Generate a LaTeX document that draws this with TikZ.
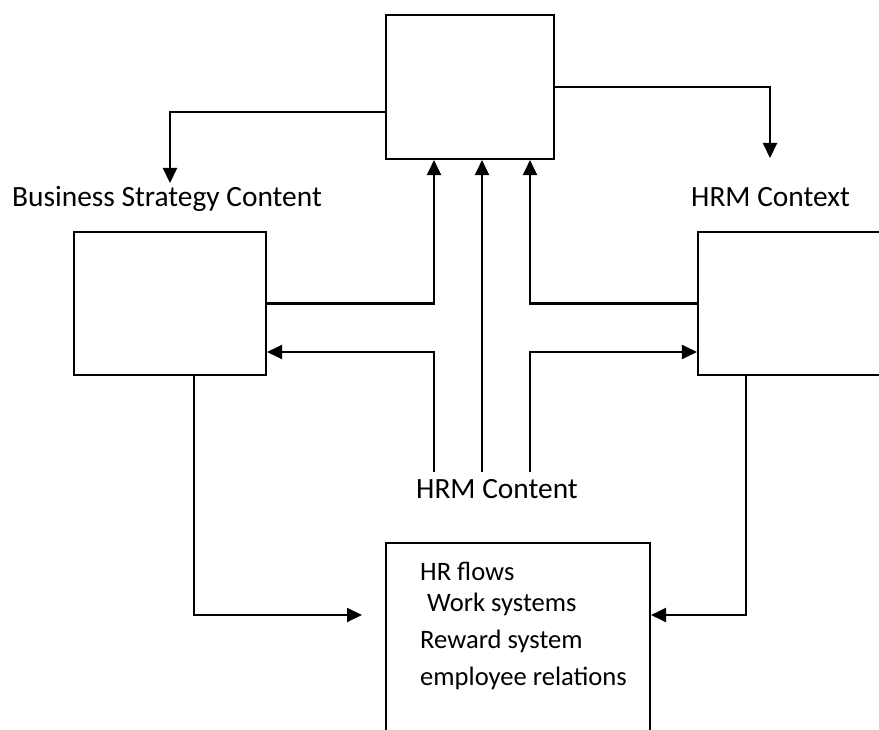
\documentclass[tikz,border=0pt]{standalone}
\usepackage{fontspec}
\setmainfont{Carlito}
\usetikzlibrary{arrows.meta}
\begin{document}
\begin{tikzpicture}[x=1pt,y=-1pt,
  box/.style={draw=black,line width=2.1pt,minimum width=#1,inner sep=0pt},
  conn/.style={draw=black,line width=2.1pt,-{Triangle[length=15pt,width=14pt]}},
  label/.style={anchor=base west,inner sep=0pt,font=\fontsize{29.4}{31}\selectfont},
  item/.style={anchor=base west,inner sep=0pt,font=\fontsize{26.6}{28}\selectfont}]
  \useasboundingbox (0,0) rectangle (879,730);
  \fill[white] (0,0) rectangle (879,730);
  \clip (0,0) rectangle (879,730);

  % boxes (the right one and the bottom one run past the page edge)
  \node[box=168pt,minimum height=144pt] (top) at (470,87) {};
  \node[box=192pt,minimum height=143pt] (lbox) at (170,303.5) {};
  \node[box=192pt,minimum height=143pt] (rbox) at (794,303.5) {};
  \node[box=264pt,minimum height=217pt] (hrbox) at (518,651.5) {};

  % labels
  \node[label] (bsc) at (12,207) {Business Strategy Content};
  \node[label] (ctx) at (691,207) {HRM Context};
  \node[label] (cnt) at (416,498) {HRM Content};

  % contents of the bottom box
  \node[item] (i1) at (420,580) {HR flows};
  \node[item] (i2) at (427,611) {Work systems};
  \node[item] (i3) at (420,648) {Reward system};
  \node[item] (i4) at (420,685) {employee relations};

  % free ends and routing rows
  \coordinate (bscTip) at (170,183);
  \coordinate (ctxTip) at (770,158);
  \coordinate (hubL) at (434,472);
  \coordinate (hubM) at (482,472);
  \coordinate (hubR) at (530,472);
  \coordinate (lowRow) at (0,352);
  \coordinate (flowTip) at (362,615);

  % from the top box out to the two side labels
  \draw[conn] ([yshift=-25pt]top.west) -| (bscTip);
  \draw[conn] (top.east) -| (ctxTip);

  % into the bottom of the top box
  \draw[conn] (lbox.east) -| (hubL |- top.south);
  \draw[conn] (hubM) -- (hubM |- top.south);
  \draw[conn] (rbox.west) -| (hubR |- top.south);

  % from HRM Content back to the side boxes
  \draw[conn] (hubL) |- (lbox.east |- lowRow);
  \draw[conn] (hubR) |- (rbox.west |- lowRow);

  % from the side boxes down to the bottom box
  \draw[conn] ([xshift=24pt]lbox.south) |- (flowTip);
  \draw[conn] ([xshift=-48pt]rbox.south) |- (hrbox.east |- flowTip);
\end{tikzpicture}
\end{document}
